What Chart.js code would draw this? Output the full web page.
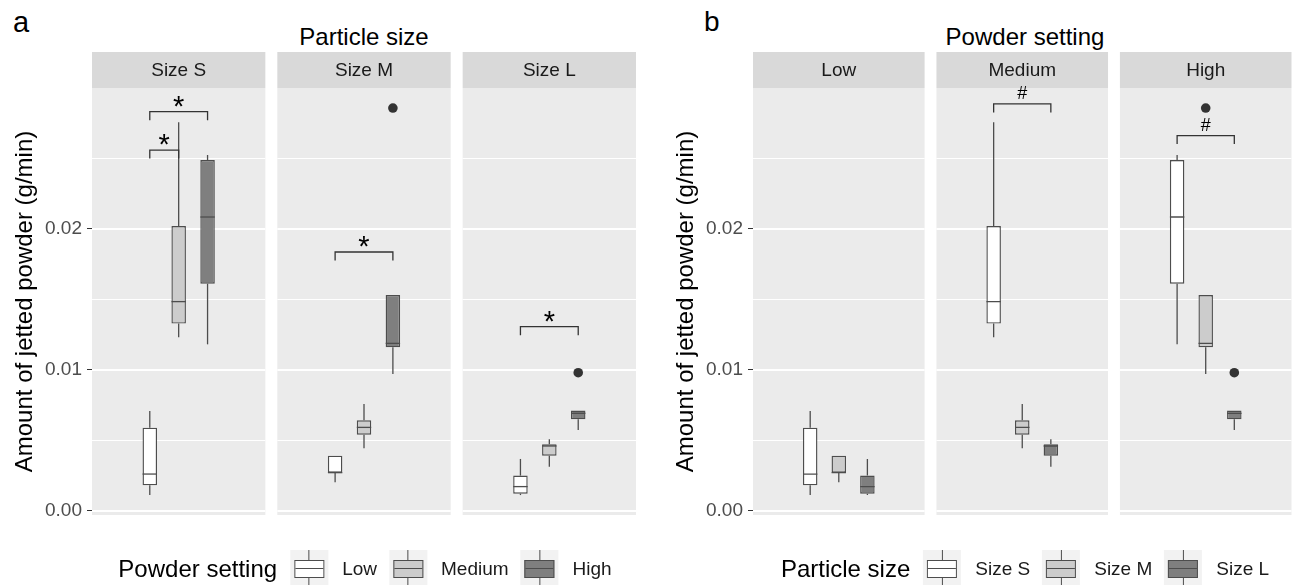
<!DOCTYPE html>
<html>
<head>
<meta charset="utf-8">
<script src="https://cdn.jsdelivr.net/npm/chart.js@4.4.0/dist/chart.umd.min.js"></script>
<style>
  body { margin: 0; width: 1300px; height: 585px; overflow: hidden; background: #fff;
         position: relative; font-family: 'Liberation Sans', Arial, sans-serif; }
  canvas { position: absolute; top: 0; }
  .tag { position: absolute; top: 6px; line-height: normal; color: #000; }
  .facet-title { position: absolute; top: 23px; width: 544px; text-align: center;
                 font-size: 24px; line-height: normal; color: #000; }
  .legend { position: absolute; top: 550px; height: 38px; display: flex; align-items: center;
            transform: translateX(-50%); white-space: nowrap; color: #000; }
  .legend .ttl { font-size: 24px; margin-right: 13px; }
  .legend .lbl { font-size: 19px; margin: 0 12px 0 14px; color: #1a1a1a; }
  .key { position: relative; width: 38px; height: 38px; background: #f2f2f2; flex: none; }
  .key .wh { position: absolute; left: 18.5px; width: 1.2px; height: 10px; background: #4d4d4d; }
  .key .top { top: 0; }
  .key .bot { bottom: 0; }
  .key .kb { position: absolute; left: 4px; top: 10px; width: 30px; height: 18px;
             border: 1.4px solid #4d4d4d; box-sizing: border-box; }
  .key .km { position: absolute; left: 0; right: 0; top: 7px; height: 0; border-top: 1.4px solid #4d4d4d; }
</style>
</head>
<body>
<div class="tag" style="left:13px;font-size:29px">a</div>
<div class="tag" style="left:704px;font-size:28px">b</div>
<div class="facet-title" style="left:92px">Particle size</div>
<div class="facet-title" style="left:753px">Powder setting</div>

<canvas id="chartA" width="650" height="585" style="left:0"></canvas>
<canvas id="chartB" width="639" height="585" style="left:661px"></canvas>

<div class="legend" id="legendA" style="left:371px"></div>
<div class="legend" id="legendB" style="left:1031px"></div>

<script>
const FONT = "'Liberation Sans', Arial, sans-serif";

// facets / groups
const sizes = ['Size S', 'Size M', 'Size L'];
const settings = ['Low', 'Medium', 'High'];
const groupFills = ['#ffffff', '#cccccc', '#7f7f7f'];

// boxplot stats, rows = particle size, columns = powder setting (g/min)
const whiskerLow = [
  [0.00113, 0.01232, 0.01182],
  [0.00203, 0.00445, 0.00972],
  [0.00113, 0.00314, 0.00574]
];
const lowerQ = [
  [0.00182, 0.01329, 0.01612],
  [0.00272, 0.00541, 0.01161],
  [0.00123, 0.00392, 0.00650]
];
const medians = [
  [0.00262, 0.01485, 0.02085],
  [0.00272, 0.00593, 0.01189],
  [0.00173, 0.00461, 0.00693]
];
const upperQ = [
  [0.00591, 0.02021, 0.02489],
  [0.00392, 0.00643, 0.01532],
  [0.00251, 0.00473, 0.00712]
];
const whiskerHigh = [
  [0.00709, 0.02757, 0.02525],
  [0.00392, 0.00759, 0.01532],
  [0.00369, 0.00508, 0.00712]
];

// outliers
const outlierSize = [1, 2];
const outlierSetting = [2, 2];
const outlierValue = [0.02858, 0.00981];

// significance brackets, panel a (facet = size, ends = settings)
const bracketFacetA = [0, 0, 1, 2];
const bracketFromA = [0, 0, 0, 0];
const bracketToA = [2, 1, 2, 2];
const bracketTopA = [0.02832, 0.02560, 0.01837, 0.01307];
const bracketLabelA = ['*', '*', '*', '*'];

// panel b (facet = setting, ends = sizes)
const bracketFacetB = [1, 2];
const bracketFromB = [0, 0];
const bracketToB = [2, 2];
const bracketTopB = [0.02887, 0.02662];
const bracketLabelB = ['#', '#'];

const yTicks = [0, 0.01, 0.02];
const yMinorTicks = [0.005, 0.015, 0.025];

// axis limits / facet geometry
const Y_MIN = -0.000284;
const Y_MAX = 0.0300;
const FACET_W = 1.2;
const FACET_GAP = 0.083;
const DODGE = 0.2;
const X_MAX = 3 * FACET_W + 2 * FACET_GAP;
const BRACKET_DROP = 0.0006;

const pos = (f, g) => f * (FACET_W + FACET_GAP) + FACET_W / 2 + (g - 1) * DODGE;

function facetPlugin(facets, brackets) {
  return {
    id: 'facets',
    beforeDatasetsDraw(chart) {
      const {ctx, chartArea, scales: {x, y}} = chart;
      ctx.save();
      facets.forEach((name, f) => {
        const l = x.getPixelForValue(f * (FACET_W + FACET_GAP));
        const r = x.getPixelForValue(f * (FACET_W + FACET_GAP) + FACET_W);
        // panel
        ctx.fillStyle = '#ebebeb';
        ctx.fillRect(l, chartArea.top, r - l, chartArea.bottom - chartArea.top);
        ctx.strokeStyle = '#ffffff';
        yMinorTicks.forEach(v => {
          const py = y.getPixelForValue(v);
          ctx.lineWidth = 1;
          ctx.beginPath(); ctx.moveTo(l, py); ctx.lineTo(r, py); ctx.stroke();
        });
        yTicks.forEach(v => {
          const py = y.getPixelForValue(v);
          ctx.lineWidth = 2;
          ctx.beginPath(); ctx.moveTo(l, py); ctx.lineTo(r, py); ctx.stroke();
        });
        // strip
        ctx.fillStyle = '#d9d9d9';
        ctx.fillRect(l, chartArea.top - 36, r - l, 36);
        ctx.fillStyle = '#1a1a1a';
        ctx.font = '19px ' + FONT;
        ctx.textAlign = 'center';
        ctx.textBaseline = 'middle';
        ctx.fillText(name, (l + r) / 2, chartArea.top - 17);
      });
      ctx.restore();
    },
    afterDatasetsDraw(chart) {
      const {ctx, scales: {x, y}} = chart;
      ctx.save();
      ctx.fillStyle = '#000';
      ctx.textAlign = 'center';
      ctx.textBaseline = 'alphabetic';
      brackets.forEach(b => {
        ctx.font = (b.label === '*' ? '29px ' : '18px ') + FONT;
        const m = ctx.measureText(b.label);
        const cx = (x.getPixelForValue(b.x1) + x.getPixelForValue(b.x2)) / 2;
        const ty = y.getPixelForValue(b.top);
        ctx.fillText(b.label, cx, ty - 5 - m.actualBoundingBoxDescent);
      });
      ctx.restore();
    }
  };
}

function makePanel(canvasId, facets, statAt, outliers, brackets, rightPad) {
  const whiskers = [], boxes = [], fills = [], meds = [];
  facets.forEach((name, f) => {
    for (let g = 0; g < 3; g++) {
      const s = statAt(f, g);
      const x = pos(f, g);
      if (s.lo < s.q1) whiskers.push({x: x, y: [s.lo, s.q1]});
      if (s.hi > s.q3) whiskers.push({x: x, y: [s.q3, s.hi]});
      boxes.push({x: x, y: [s.q1, s.q3]});
      fills.push(groupFills[g]);
      meds.push({x: x, y: s.med});
    }
  });

  const bracketSets = brackets.map(b => ({
    type: 'line',
    data: [
      {x: b.x1, y: b.top - BRACKET_DROP}, {x: b.x1, y: b.top},
      {x: b.x2, y: b.top}, {x: b.x2, y: b.top - BRACKET_DROP}
    ],
    borderColor: '#333333',
    borderWidth: 1.3,
    pointRadius: 0,
    fill: false,
    tension: 0,
    order: 0
  }));

  return new Chart(document.getElementById(canvasId), {
    type: 'bar',
    data: {
      datasets: [
        {
          type: 'bar', data: whiskers, backgroundColor: '#4d4d4d', borderWidth: 0,
          grouped: false, maxBarThickness: 1.3, order: 4
        },
        {
          type: 'bar', data: boxes, backgroundColor: fills, borderColor: '#4d4d4d',
          borderWidth: 1.4, borderSkipped: false, grouped: false, maxBarThickness: 14.5, order: 3
        },
        {
          type: 'scatter', data: meds, pointStyle: 'line', pointRadius: 7.2,
          borderColor: '#4d4d4d', borderWidth: 1.3, order: 2
        },
        {
          type: 'scatter', data: outliers, pointRadius: 4.8, pointBorderWidth: 0,
          backgroundColor: '#333333', borderColor: '#333333', order: 1
        },
        ...bracketSets
      ]
    },
    options: {
      responsive: false,
      animation: false,
      events: [],
      layout: { padding: { top: 88, bottom: 70, left: 0, right: rightPad } },
      plugins: { legend: { display: false }, tooltip: { enabled: false } },
      scales: {
        x: { type: 'linear', min: 0, max: X_MAX, offset: false, display: false, ticks: { stepSize: 1 } },
        y: {
          min: Y_MIN,
          max: Y_MAX,
          afterFit: s => { s.width = 92; },
          afterBuildTicks: s => { s.ticks = yTicks.map(v => ({ value: v })); },
          ticks: {
            callback: v => Number(v).toFixed(2),
            color: '#4d4d4d',
            font: { family: FONT, size: 19 },
            padding: 5
          },
          grid: { drawOnChartArea: false, drawTicks: true, tickLength: 5, tickColor: '#333333', lineWidth: 1 },
          border: { display: false },
          title: {
            display: true,
            text: 'Amount of jetted powder (g/min)',
            color: '#000',
            font: { family: FONT, size: 24 },
            padding: { top: 11, bottom: 0 }
          }
        }
      }
    },
    plugins: [facetPlugin(facets, brackets)]
  });
}

// panel a: facets = particle size, groups = powder setting
makePanel('chartA', sizes,
  (f, g) => ({ lo: whiskerLow[f][g], q1: lowerQ[f][g], med: medians[f][g], q3: upperQ[f][g], hi: whiskerHigh[f][g] }),
  outlierValue.map((v, i) => ({ x: pos(outlierSize[i], outlierSetting[i]), y: v })),
  bracketTopA.map((t, i) => ({
    x1: pos(bracketFacetA[i], bracketFromA[i]), x2: pos(bracketFacetA[i], bracketToA[i]),
    top: t, label: bracketLabelA[i]
  })),
  14);

// panel b: facets = powder setting, groups = particle size
makePanel('chartB', settings,
  (f, g) => ({ lo: whiskerLow[g][f], q1: lowerQ[g][f], med: medians[g][f], q3: upperQ[g][f], hi: whiskerHigh[g][f] }),
  outlierValue.map((v, i) => ({ x: pos(outlierSetting[i], outlierSize[i]), y: v })),
  bracketTopB.map((t, i) => ({
    x1: pos(bracketFacetB[i], bracketFromB[i]), x2: pos(bracketFacetB[i], bracketToB[i]),
    top: t, label: bracketLabelB[i]
  })),
  3);

// legends
function buildLegend(id, title, labels) {
  const el = document.getElementById(id);
  let html = '<span class="ttl">' + title + '</span>';
  labels.forEach((lab, i) => {
    html += '<span class="key"><span class="wh top"></span>' +
      '<span class="kb" style="background:' + groupFills[i] + '"><span class="km"></span></span>' +
      '<span class="wh bot"></span></span><span class="lbl">' + lab + '</span>';
  });
  el.innerHTML = html;
}
buildLegend('legendA', 'Powder setting', settings);
buildLegend('legendB', 'Particle size', sizes);
</script>
</body>
</html>
